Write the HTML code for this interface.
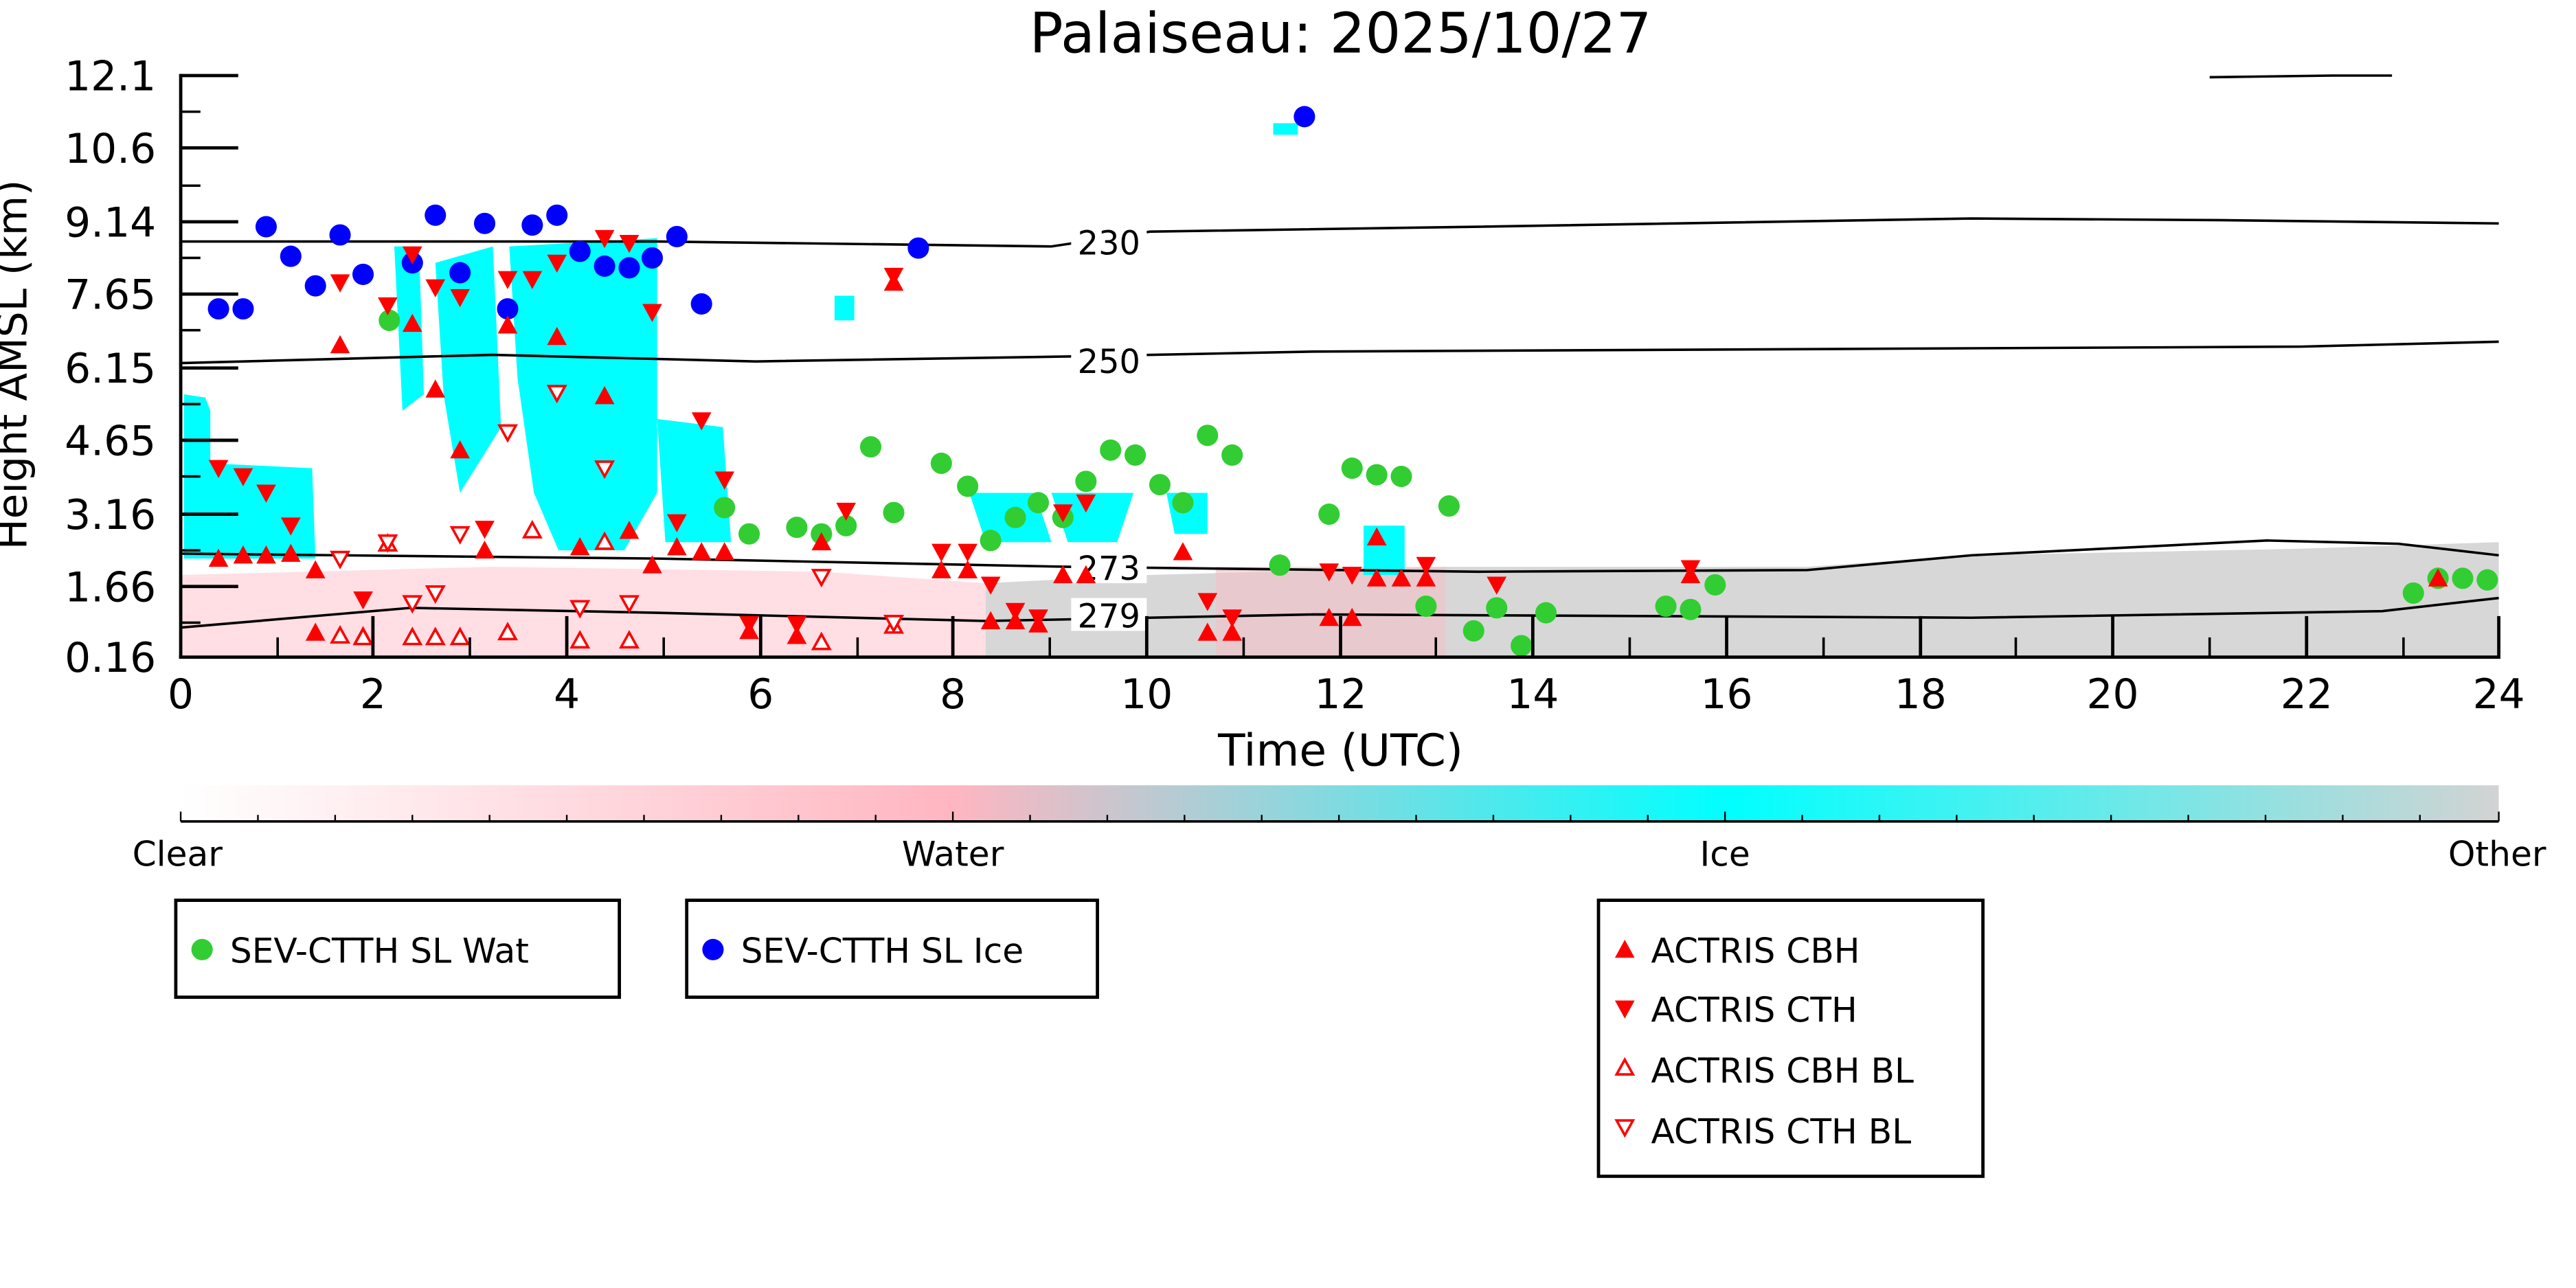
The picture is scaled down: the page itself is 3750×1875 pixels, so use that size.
<!DOCTYPE html>
<html><head><meta charset="utf-8"><style>html,body{margin:0;padding:0;background:#fff}svg{display:block}</style></head>
<body>
<svg width="3750" height="1875" viewBox="0 0 1568 784" preserveAspectRatio="none" xmlns="http://www.w3.org/2000/svg" font-family="DejaVu Sans, Liberation Sans, sans-serif">
<defs>
<linearGradient id="cb" x1="0" x2="1" y1="0" y2="0">
<stop offset="0" stop-color="#ffffff"/><stop offset="0.333" stop-color="#ffb6c1"/><stop offset="0.667" stop-color="#00ffff"/><stop offset="1" stop-color="#d3d3d3"/>
</linearGradient>
<g id="u"><path d="M0,-6 L6,5 L-6,5Z"/></g>
<g id="d"><path d="M0,6 L6,-5 L-6,-5Z"/></g>
</defs>
<text x="816" y="32" font-size="34" text-anchor="middle">Palaiseau: 2025/10/27</text>
<!-- gray other -->
<path d="M600,400 L600,355 L700,350 L880,345 L1100,345 L1200,338 L1300,336 L1400,334 L1521,330 L1521,400Z" fill="#d3d3d3" opacity="0.9"/>
<path d="M110,400 L110,350 L300,345 L500,348 L600,355 L600,400Z" fill="#ffd0d8" opacity="0.7"/>
<path d="M740,400 L740,345 L880,345 L880,400Z" fill="#f4c0c8" opacity="0.6"/>
<!-- ice -->
<g fill="#00ffff">
<path d="M112,240 L125,242 L128,250 L128,282 L190,285 L192,340 L112,340Z"/>
<path d="M240,150 L255,150 L258,240 L245,250Z"/>
<path d="M265,160 L300,150 L305,260 L280,300 L270,240Z"/>
<path d="M310,150 L400,145 L400,300 L380,335 L340,335 L325,300 L315,230Z"/>
<path d="M400,255 L440,260 L445,330 L405,330Z"/>
<path d="M590,300 L630,300 L640,330 L600,330Z"/>
<path d="M640,300 L690,300 L680,330 L650,330Z"/>
<path d="M710,300 L735,300 L735,325 L715,325Z"/>
<path d="M830,320 L855,320 L855,350 L830,350Z"/>
<path d="M508,180 L520,180 L520,195 L508,195Z"/>
<path d="M775,75 L790,75 L790,82 L775,82Z"/>
</g>
<!-- contours -->
<g fill="none" stroke="#000" stroke-width="1.5">
<path d="M110,147 L400,147 L640,150 L700,141 L900,138 L1200,133 L1350,134 L1521,136"/>
<path d="M110,221 L300,216 L460,220 L650,217 L800,214 L1000,213 L1200,212 L1400,211 L1521,208"/>
<path d="M110,337 L400,340 L650,345 L900,348 L1100,347 L1200,338 L1300,333 L1380,329 L1460,331 L1521,338"/>
<path d="M110,382 L250,370 L400,373 L600,378 L800,374 L1200,376 L1450,372 L1521,364"/>
<path d="M1345,47 L1420,46 L1456,46"/>
</g>
<g font-size="20" text-anchor="middle"><rect x="652" y="137" width="46" height="20" fill="#fff"/><text x="675" y="155">230</text>
<rect x="652" y="209" width="46" height="20" fill="#fff"/><text x="675" y="227">250</text>
<rect x="652" y="335" width="46" height="20" fill="#fff"/><text x="675" y="353">273</text>
<rect x="652" y="364" width="46" height="20" fill="#fff"/><text x="675" y="382">279</text></g>
<!-- markers -->
<g fill="#32cd32">
<circle cx="237" cy="195" r="6.5"/><circle cx="441" cy="309" r="6.5"/><circle cx="456" cy="325" r="6.5"/><circle cx="485" cy="321" r="6.5"/><circle cx="500" cy="325" r="6.5"/><circle cx="515" cy="320" r="6.5"/><circle cx="530" cy="272" r="6.5"/><circle cx="544" cy="312" r="6.5"/><circle cx="573" cy="282" r="6.5"/><circle cx="589" cy="296" r="6.5"/><circle cx="603" cy="329" r="6.5"/><circle cx="618" cy="315" r="6.5"/><circle cx="632" cy="306" r="6.5"/><circle cx="647" cy="315" r="6.5"/><circle cx="661" cy="293" r="6.5"/><circle cx="676" cy="274" r="6.5"/><circle cx="691" cy="277" r="6.5"/><circle cx="706" cy="295" r="6.5"/><circle cx="720" cy="306" r="6.5"/><circle cx="735" cy="265" r="6.5"/><circle cx="750" cy="277" r="6.5"/><circle cx="779" cy="344" r="6.5"/><circle cx="809" cy="313" r="6.5"/><circle cx="823" cy="285" r="6.5"/><circle cx="838" cy="289" r="6.5"/><circle cx="853" cy="290" r="6.5"/><circle cx="868" cy="369" r="6.5"/><circle cx="882" cy="308" r="6.5"/><circle cx="897" cy="384" r="6.5"/><circle cx="911" cy="370" r="6.5"/><circle cx="926" cy="393" r="6.5"/><circle cx="941" cy="373" r="6.5"/><circle cx="1014" cy="369" r="6.5"/><circle cx="1029" cy="371" r="6.5"/><circle cx="1044" cy="356" r="6.5"/><circle cx="1469" cy="361" r="6.5"/><circle cx="1484" cy="352" r="6.5"/><circle cx="1499" cy="352" r="6.5"/><circle cx="1514" cy="353" r="6.5"/>
</g>
<g fill="#0000ff">
<circle cx="133" cy="188" r="6.5"/><circle cx="148" cy="188" r="6.5"/><circle cx="162" cy="138" r="6.5"/><circle cx="177" cy="156" r="6.5"/><circle cx="192" cy="174" r="6.5"/><circle cx="207" cy="143" r="6.5"/><circle cx="221" cy="167" r="6.5"/><circle cx="251" cy="160" r="6.5"/><circle cx="265" cy="131" r="6.5"/><circle cx="280" cy="166" r="6.5"/><circle cx="295" cy="136" r="6.5"/><circle cx="309" cy="188" r="6.5"/><circle cx="324" cy="137" r="6.5"/><circle cx="339" cy="131" r="6.5"/><circle cx="353" cy="153" r="6.5"/><circle cx="368" cy="162" r="6.5"/><circle cx="383" cy="163" r="6.5"/><circle cx="397" cy="157" r="6.5"/><circle cx="412" cy="144" r="6.5"/><circle cx="427" cy="185" r="6.5"/><circle cx="559" cy="151" r="6.5"/><circle cx="794" cy="71" r="6.5"/>
</g>
<g fill="#ff0000">
<use href="#u" x="133" y="340"/><use href="#u" x="148" y="338"/><use href="#u" x="162" y="338"/><use href="#u" x="177" y="337"/><use href="#u" x="192" y="347"/><use href="#u" x="207" y="210"/><use href="#u" x="251" y="197"/><use href="#u" x="265" y="237"/><use href="#u" x="280" y="274"/><use href="#u" x="295" y="335"/><use href="#u" x="309" y="198"/><use href="#u" x="339" y="205"/><use href="#u" x="353" y="333"/><use href="#u" x="368" y="241"/><use href="#u" x="383" y="323"/><use href="#u" x="397" y="344"/><use href="#u" x="412" y="333"/><use href="#u" x="427" y="336"/><use href="#u" x="441" y="336"/><use href="#u" x="192" y="385"/><use href="#u" x="221" y="387"/><use href="#u" x="456" y="384"/><use href="#u" x="485" y="387"/><use href="#u" x="500" y="330"/><use href="#u" x="544" y="172"/><use href="#u" x="573" y="347"/><use href="#u" x="589" y="347"/><use href="#u" x="603" y="378"/><use href="#u" x="618" y="378"/><use href="#u" x="632" y="380"/><use href="#u" x="647" y="350"/><use href="#u" x="661" y="350"/><use href="#u" x="720" y="336"/><use href="#u" x="735" y="385"/><use href="#u" x="750" y="385"/><use href="#u" x="809" y="376"/><use href="#u" x="823" y="376"/><use href="#u" x="838" y="327"/><use href="#u" x="838" y="352"/><use href="#u" x="853" y="352"/><use href="#u" x="868" y="352"/><use href="#u" x="1029" y="350"/><use href="#u" x="1484" y="352"/>
<use href="#d" x="133" y="285"/><use href="#d" x="148" y="290"/><use href="#d" x="162" y="300"/><use href="#d" x="177" y="320"/><use href="#d" x="207" y="172"/><use href="#d" x="221" y="365"/><use href="#d" x="236" y="186"/><use href="#d" x="251" y="155"/><use href="#d" x="265" y="175"/><use href="#d" x="280" y="181"/><use href="#d" x="295" y="322"/><use href="#d" x="309" y="170"/><use href="#d" x="324" y="170"/><use href="#d" x="339" y="160"/><use href="#d" x="368" y="145"/><use href="#d" x="383" y="148"/><use href="#d" x="397" y="190"/><use href="#d" x="412" y="318"/><use href="#d" x="427" y="256"/><use href="#d" x="441" y="292"/><use href="#d" x="456" y="380"/><use href="#d" x="485" y="380"/><use href="#d" x="515" y="311"/><use href="#d" x="544" y="168"/><use href="#d" x="573" y="336"/><use href="#d" x="589" y="336"/><use href="#d" x="603" y="356"/><use href="#d" x="618" y="372"/><use href="#d" x="632" y="376"/><use href="#d" x="647" y="312"/><use href="#d" x="661" y="306"/><use href="#d" x="735" y="366"/><use href="#d" x="750" y="376"/><use href="#d" x="809" y="348"/><use href="#d" x="823" y="350"/><use href="#d" x="868" y="344"/><use href="#d" x="911" y="356"/><use href="#d" x="1029" y="346"/>
</g>
<g fill="#fff" stroke="#ff0000" stroke-width="1.5">
<path d="M207,382 l5,9 h-10z"/><path d="M236,326 l5,9 h-10z"/><path d="M251,383 l5,9 h-10z"/><path d="M265,383 l5,9 h-10z"/><path d="M280,383 l5,9 h-10z"/><path d="M309,380 l5,9 h-10z"/><path d="M324,318 l5,9 h-10z"/><path d="M368,325 l5,9 h-10z"/><path d="M383,385 l5,9 h-10z"/><path d="M500,386 l5,9 h-10z"/><path d="M544,376 l5,9 h-10z"/><path d="M353,385 l5,9 h-10z"/><path d="M221,383 l5,9 h-10z"/>
<path d="M207,345 l5,-9 h-10z"/><path d="M236,335 l5,-9 h-10z"/><path d="M251,372 l5,-9 h-10z"/><path d="M265,366 l5,-9 h-10z"/><path d="M280,330 l5,-9 h-10z"/><path d="M309,268 l5,-9 h-10z"/><path d="M339,244 l5,-9 h-10z"/><path d="M353,375 l5,-9 h-10z"/><path d="M368,290 l5,-9 h-10z"/><path d="M383,372 l5,-9 h-10z"/><path d="M500,356 l5,-9 h-10z"/><path d="M544,384 l5,-9 h-10z"/>
</g>
<!-- axes -->
<g stroke="#000" stroke-width="2" fill="none">
<line x1="110" y1="45" x2="110" y2="401"/><line x1="109" y1="400" x2="1522" y2="400"/>
<path d="M110,46h35M110,90h35M110,135h35M110,179h35M110,224h35M110,268h35M110,313h35M110,357h35"/>
<path d="M227,400v-25M345,400v-25M463,400v-25M580,400v-25M698,400v-25M816,400v-25M933,400v-25M1051,400v-25M1169,400v-25M1286,400v-25M1404,400v-25M1521,400v-25"/>
<path d="M169,400v-12M286,400v-12M404,400v-12M522,400v-12M639,400v-12M757,400v-12M874,400v-12M992,400v-12M1110,400v-12M1227,400v-12M1345,400v-12M1463,400v-12" stroke-width="1.5"/>
<path d="M110,68h12M110,113h12M110,157h12M110,201h12M110,246h12M110,290h12M110,335h12M110,379h12" stroke-width="1.5"/>
</g>
<g font-size="25" text-anchor="end"><text x="95" y="55">12.1</text><text x="95" y="99">10.6</text><text x="95" y="144">9.14</text><text x="95" y="188">7.65</text><text x="95" y="233">6.15</text><text x="95" y="277">4.65</text><text x="95" y="322">3.16</text><text x="95" y="366">1.66</text><text x="95" y="409">0.16</text></g>
<g font-size="25" text-anchor="middle"><text x="110" y="431">0</text><text x="227" y="431">2</text><text x="345" y="431">4</text><text x="463" y="431">6</text><text x="580" y="431">8</text><text x="698" y="431">10</text><text x="816" y="431">12</text><text x="933" y="431">14</text><text x="1051" y="431">16</text><text x="1169" y="431">18</text><text x="1286" y="431">20</text><text x="1404" y="431">22</text><text x="1521" y="431">24</text></g>
<text x="816" y="466" font-size="27" text-anchor="middle">Time (UTC)</text>
<text transform="translate(16,222) rotate(-90)" font-size="25" text-anchor="middle">Height AMSL (km)</text>
<!-- colorbar -->
<rect x="110" y="478" width="1411" height="22" fill="url(#cb)"/>
<line x1="110" y1="500" x2="1521" y2="500" stroke="#000" stroke-width="1.5"/>
<g stroke="#000" stroke-width="1"><path d="M110,500v-6M157,500v-4M204,500v-4M251,500v-4M298,500v-4M345,500v-4M392,500v-4M439,500v-4M486,500v-4M533,500v-4M580,500v-6M627,500v-4M674,500v-4M721,500v-4M768,500v-4M815,500v-4M862,500v-4M909,500v-4M956,500v-4M1003,500v-4M1050,500v-6M1097,500v-4M1144,500v-4M1191,500v-4M1238,500v-4M1285,500v-4M1332,500v-4M1379,500v-4M1426,500v-4M1473,500v-4M1521,500v-6"/></g>
<g font-size="21" text-anchor="middle"><text x="108" y="527">Clear</text><text x="580" y="527">Water</text><text x="1050" y="527">Ice</text><text x="1520" y="527">Other</text></g>
<!-- legends -->
<g fill="#fff" stroke="#000" stroke-width="2"><rect x="107" y="548" width="270" height="59"/><rect x="418" y="548" width="250" height="59"/><rect x="973" y="548" width="234" height="168"/></g>
<g font-size="21">
<circle cx="123" cy="578" r="6.5" fill="#32cd32"/><text x="140" y="586">SEV-CTTH SL Wat</text>
<circle cx="434" cy="578" r="6.5" fill="#0000ff"/><text x="451" y="586">SEV-CTTH SL Ice</text>
<path d="M989,572 l6,11 h-12z" fill="#f00"/><text x="1005" y="586">ACTRIS CBH</text>
<path d="M989,620 l6,-11 h-12z" fill="#f00"/><text x="1005" y="622">ACTRIS CTH</text>
<path d="M989,645 l5,9 h-10z" fill="#fff" stroke="#f00" stroke-width="1.5"/><text x="1005" y="659">ACTRIS CBH BL</text>
<path d="M989,691 l5,-9 h-10z" fill="#fff" stroke="#f00" stroke-width="1.5"/><text x="1005" y="696">ACTRIS CTH BL</text>
</g>
</svg>
</body></html>
